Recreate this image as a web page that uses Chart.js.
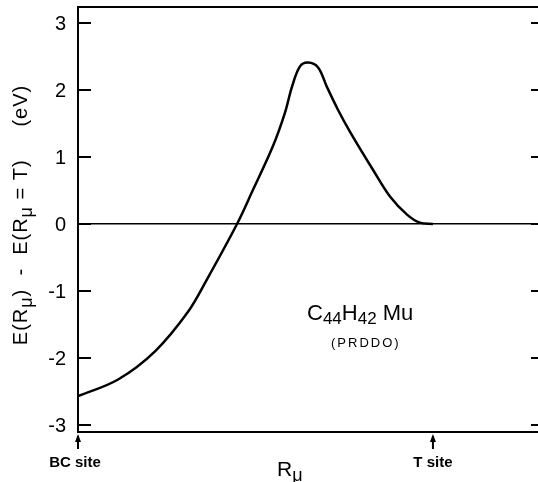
<!DOCTYPE html>
<html>
<head>
<meta charset="utf-8">
<script src="https://cdn.jsdelivr.net/npm/chart.js@4/dist/chart.umd.min.js"></script>
<style>
  html, body { margin: 0; padding: 0; background: #fff; }
</style>
</head>
<body>
<canvas id="myChart" width="538" height="482"></canvas>
<script>
  // Positions along R_mu (0 = BC site, 1 = T site)
  const rValues = [0, 0.113, 0.217, 0.310, 0.363, 0.448, 0.493, 0.549, 0.583, 0.603, 0.625, 0.648, 0.676, 0.701, 0.732, 0.766, 0.831, 0.879, 0.927, 0.963, 1.0]
  // E(R_mu) - E(R_mu = T), eV
  const energyValues = [-2.57, -2.32, -1.90, -1.31, -0.83, 0, 0.51, 1.16, 1.66, 2.05, 2.35, 2.41, 2.34, 2.05, 1.71, 1.38, 0.81, 0.41, 0.14, 0.02, 0]
  const yTicks = [-3, -2, -1, 0, 1, 2, 3]
  const siteValues = [0, 1]
  const siteLabels = ['BC site', 'T site']

  const FONT = '"Liberation Sans", Arial, sans-serif'

  // draws text with subscript parts, pieces = [[text, isSub], ...]
  function drawRich(ctx, pieces, x, y, size, subSize, subDrop) {
    let cx = x
    pieces.forEach(([t, sub]) => {
      ctx.font = (sub ? subSize : size) + 'px ' + FONT
      ctx.fillText(t, cx, sub ? y + subDrop : y)
      cx += ctx.measureText(t).width
    })
    return cx - x
  }
  function richWidth(ctx, pieces, size, subSize) {
    let w = 0
    pieces.forEach(([t, sub]) => {
      ctx.font = (sub ? subSize : size) + 'px ' + FONT
      w += ctx.measureText(t).width
    })
    return w
  }

  const framePlugin = {
    id: 'frame',
    afterDraw(chart) {
      const { ctx, chartArea: a, scales: { x, y } } = chart
      ctx.save()
      ctx.strokeStyle = '#000'
      ctx.fillStyle = '#000'
      ctx.lineWidth = 2
      ctx.beginPath()
      ctx.moveTo(a.right, a.top)
      ctx.lineTo(a.left, a.top)
      ctx.lineTo(a.left, a.bottom)
      ctx.lineTo(a.right, a.bottom)
      ctx.stroke()

      // inward ticks on both sides + labels
      ctx.font = '20px ' + FONT
      ctx.textAlign = 'right'
      ctx.textBaseline = 'middle'
      yTicks.forEach(v => {
        const py = y.getPixelForValue(v)
        ctx.beginPath()
        ctx.moveTo(a.left, py)
        ctx.lineTo(a.left + 13, py)
        ctx.moveTo(a.right, py)
        ctx.lineTo(a.right - 7, py)
        ctx.stroke()
        ctx.fillText(String(v), a.left - 12, py + 1)
      })

      // site arrows and labels
      ctx.textAlign = 'center'
      siteValues.forEach((v, i) => {
        const px = x.getPixelForValue(v)
        ctx.lineWidth = 2
        ctx.beginPath()
        ctx.moveTo(px, a.bottom + 4)
        ctx.lineTo(px, a.bottom + 17)
        ctx.stroke()
        ctx.beginPath()
        ctx.moveTo(px, a.bottom + 2)
        ctx.lineTo(px - 3, a.bottom + 10)
        ctx.lineTo(px + 3, a.bottom + 10)
        ctx.closePath()
        ctx.fill()
        ctx.font = 'bold 15px ' + FONT
        ctx.fillText(siteLabels[i], px - (i === 0 ? 3 : 0), a.bottom + 31)
      })

      // x title R_mu
      ctx.textAlign = 'left'
      ctx.textBaseline = 'alphabetic'
      drawRich(ctx, [['R', false], ['\u03bc', true]], 277, 476, 21, 18, 5)

      // y title
      const yt = [['E(R', false], ['\u03bc', true], [')  -  E(R', false], ['\u03bc', true], [' = T)     (eV)', false]]
      ctx.save()
      ctx.translate(27, 215)
      ctx.rotate(-Math.PI / 2)
      ctx.letterSpacing = '1px'
      const w = richWidth(ctx, yt, 20, 18)
      drawRich(ctx, yt, -w / 2, 0, 20, 18, 5)
      ctx.restore()

      // annotation
      const ann = [['C', false], ['44', true], ['H', false], ['42', true], [' Mu', false]]
      drawRich(ctx, ann, 307, 320, 22, 17, 4)
      ctx.font = '13px ' + FONT
      ctx.letterSpacing = '2px'
      ctx.fillText('(PRDDO)', 331, 347)
      ctx.restore()
    }
  }

  const ctx = document.getElementById('myChart')
  // eslint-disable-next-line no-unused-vars
  const myChart = new Chart(ctx, {
    type: 'line',
    data: {
      datasets: [{
        data: rValues.map((r, i) => ({ x: r, y: energyValues[i] })),
        borderColor: '#000',
        borderWidth: 2.5,
        pointRadius: 0,
        fill: false,
        tension: 0.35
      }]
    },
    options: {
      responsive: false,
      animation: false,
      layout: { padding: { top: 7, right: 0, bottom: 50, left: 0 } },
      plugins: {
        legend: { display: false },
        tooltip: { enabled: false }
      },
      scales: {
        x: {
          type: 'linear',
          min: 0,
          max: 1.296,
          display: false
        },
        y: {
          min: -3.104,
          max: 3.239,
          afterFit: s => { s.width = 78 },
          afterBuildTicks: s => { s.ticks = yTicks.map(v => ({ value: v })) },
          border: { display: false },
          grid: {
            drawTicks: false,
            lineWidth: 1.5,
            color: c => (c.tick && c.tick.value === 0 ? '#000' : 'transparent')
          },
          ticks: { display: false }
        }
      }
    },
    plugins: [framePlugin]
  })
</script>
</body>
</html>
